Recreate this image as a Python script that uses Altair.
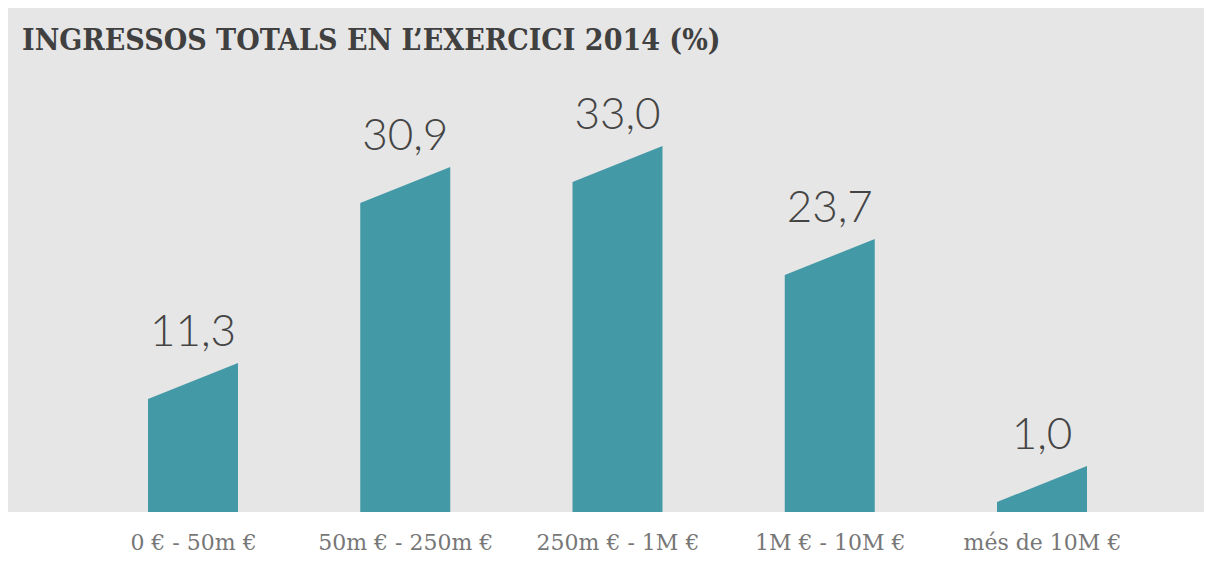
import json
import altair as alt
import pandas as pd

title_text = "INGRESSOS TOTALS EN L\u2019EXERCICI 2014 (%)"
categories = ["0 € - 50m €", "50m € - 250m €", "250m € - 1M €", "1M € - 10M €", "més de 10M €"]
values = [11.3, 30.9, 33.0, 23.7, 1.0]
value_labels = ["11,3", "30,9", "33,0", "23,7", "1,0"]

# style constants
W, H = 1196, 504
SPACING = 212.25      # px between bar centres
FIRST = 185           # px of first bar centre in view
HALF = 45 / SPACING   # half bar width in x units
RISE = 3.6            # slant rise in value units
BAR = "#4399a6"
BG = "#e6e6e6"

rows = []
for i, (c, v) in enumerate(zip(categories, values)):
    rows.append({"cat": c, "x": i - HALF, "y": v})
    rows.append({"cat": c, "x": i + HALF, "y": v + RISE})
shape_df = pd.DataFrame(rows)

lab_df = pd.DataFrame({
    "x": list(range(len(values))),
    "y": [v + RISE for v in values],
    "label": value_labels,
})

xscale = alt.Scale(domain=[-FIRST / SPACING, (W - FIRST) / SPACING], nice=False, zero=False)
yscale = alt.Scale(domain=[0, H / 10], nice=False)

label_expr = json.dumps(categories, ensure_ascii=False) + "[datum.value]"

bars = alt.Chart(shape_df).mark_area(color=BAR, interpolate="linear").encode(
    x=alt.X("x:Q", scale=xscale, axis=alt.Axis(
        values=list(range(len(categories))), labelExpr=label_expr, title=None,
        domain=False, ticks=False, grid=False, labelPadding=37,
        labelBaseline="alphabetic", labelFont="DejaVu Serif", labelFontSize=22,
        labelColor="#777777", labelFontWeight="normal",
        labelLimit=0, labelOverlap=False, labelFlush=False)),
    y=alt.Y("y:Q", scale=yscale, axis=None, stack=None),
    detail="cat:N",
)

texts = alt.Chart(lab_df).mark_text(
    font="Lato", fontWeight=300, fontSize=44, color="#444444",
    baseline="alphabetic", align="center", dy=-17,
).encode(
    x=alt.X("x:Q", scale=xscale),
    y=alt.Y("y:Q", scale=yscale),
    text="label:N",
)

title = alt.Chart(pd.DataFrame({"t": [title_text]})).mark_text(
    font="DejaVu Serif Condensed, DejaVu Serif", fontWeight="bold", fontSize=30,
    color="#404040", align="left", baseline="alphabetic",
).encode(text="t:N", x=alt.value(14), y=alt.value(42))

chart = alt.layer(bars, texts, title).properties(
    width=W, height=H,
    autosize=alt.AutoSizeParams(type="none"),
    padding={"left": 0, "top": 0, "right": 0, "bottom": 43},
    background="white",
).configure_view(fill=BG, strokeWidth=0)

chart.save("out.html", embed_options={"renderer": "svg", "actions": False})
